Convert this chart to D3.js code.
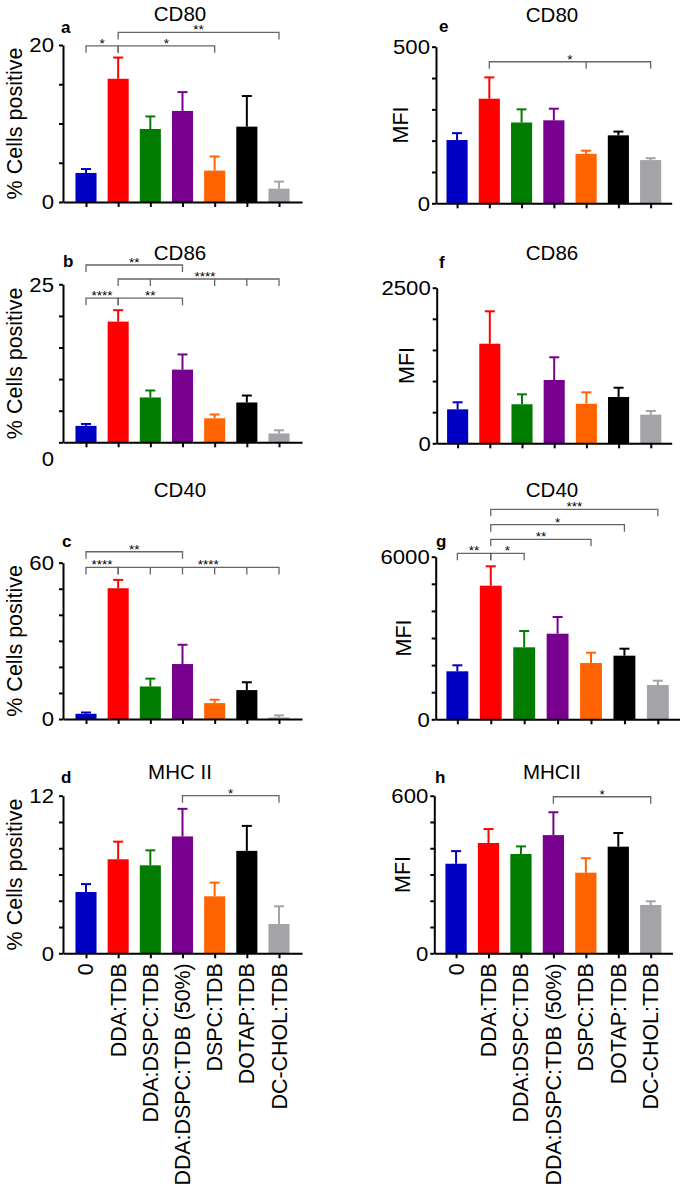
<!DOCTYPE html>
<html>
<head>
<meta charset="utf-8">
<script src="https://cdn.jsdelivr.net/npm/d3@7"></script>
<style>
  body { margin: 0; background: #fff; }
  svg { display: block; font-family: "Liberation Sans", Arial, Helvetica, sans-serif; }
</style>
</head>
<body>
<svg id="fig" width="685" height="1190"></svg>
<script>
//*** donnees ******************************************************************/
const groupes = ["0", "DDA:TDB", "DDA:DSPC:TDB", "DDA:DSPC:TDB (50%)", "DSPC:TDB", "DOTAP:TDB", "DC-CHOL:TDB"];
const couleurs = ["#0000c4", "#ff0000", "#007d00", "#78008f", "#ff6400", "#000000", "#a3a3a8"];

// % cellules positives (moyenne + SEM)
const cd80Pct = [3.7, 15.7, 9.3, 11.6, 4.0, 9.6, 1.7];
const cd80PctSem = [0.5, 2.7, 1.6, 2.4, 1.8, 3.9, 0.9];
const cd86Pct = [2.6, 19.1, 7.1, 11.5, 3.8, 6.3, 1.4];
const cd86PctSem = [0.3, 1.8, 1.1, 2.4, 0.6, 1.1, 0.5];
const cd40Pct = [2.0, 50.2, 12.5, 21.1, 6.1, 11.1, 0.6];
const cd40PctSem = [0.5, 3.2, 3.0, 7.4, 1.3, 3.0, 0.8];
const mhcPct = [4.67, 7.16, 6.7, 8.9, 4.34, 7.8, 2.23];
const mhcPctSem = [0.6, 1.34, 1.14, 2.1, 1.04, 1.9, 1.35];

// MFI (moyenne + SEM)
const cd80Mfi = [202, 334, 258, 265, 158, 217, 138];
const cd80MfiSem = [22, 68, 42, 37, 10, 12, 6];
const cd86Mfi = [546, 1600, 627, 1017, 636, 744, 460];
const cd86MfiSem = [113, 521, 160, 365, 183, 149, 59];
const cd40Mfi = [1771, 4930, 2657, 3159, 2077, 2347, 1266];
const cd40MfiSem = [222, 716, 601, 616, 381, 258, 158];
const mhcMfi = [341, 420, 378, 450, 307, 406, 184];
const mhcMfiSem = [48, 53, 29, 87, 55, 52, 14];

// significativite : [de, a, niveau (unites de l'axe), etiquette, pattes en plus, position etiquette]
const sigCd80Pct = [[0, 1, 19.9, "*"], [1, 4, 19.9, "*"], [1, 6, 21.6, "**"]];
const sigCd86Pct = [[0, 3, 28.05, "**"], [1, 6, 25.84, "****", [2, 4, 5], 3.7], [0, 1, 22.8, "****"], [1, 3, 22.8, "**"]];
const sigCd40Pct = [[0, 3, 64.2, "**"], [0, 1, 58.2, "****"], [1, 6, 58.2, "****", [2, 3, 4, 5], 3.8]];
const sigMhcPct = [[3, 6, 12.0, "*"]];
const sigCd80Mfi = [[1, 6, 452, "*", [4]]];
const sigCd86Mfi = [];
const sigCd40Mfi = [[1, 6, 7749, "***"], [1, 5, 7181, "*"], [1, 4, 6642, "**"], [0, 1, 6125, "**"], [1, 2, 6125, "*"]];
const sigMhcMfi = [[3, 6, 596, "*"]];

//*** mise en page des 8 panneaux **********************************************/
const panneaux = [
  { lettre: "a", titre: "CD80", yLab: "% Cells positive", moy: cd80Pct, sem: cd80PctSem, sig: sigCd80Pct, max: 20, pas: 5,
    ax: 63, ae: 302, pad: 0.715, yTop: 45, y0: 202, tx: 180, ty: 20.7, lx: 61, ly: 33, labX: 22, gap: 9 },
  { lettre: "b", titre: "CD86", yLab: "% Cells positive", moy: cd86Pct, sem: cd86PctSem, sig: sigCd86Pct, max: 25, pas: 5,
    ax: 63, ae: 302, pad: 0.715, yTop: 284.3, y0: 442.3, tx: 180, ty: 260, lx: 63, ly: 266.7, labX: 22, gap: 9, zeroDy: 16 },
  { lettre: "c", titre: "CD40", yLab: "% Cells positive", moy: cd40Pct, sem: cd40PctSem, sig: sigCd40Pct, max: 60, pas: 10,
    ax: 63, ae: 302, pad: 0.715, yTop: 562.7, y0: 719, tx: 180, ty: 497.3, lx: 62, ly: 547, labX: 22, gap: 9 },
  { lettre: "d", titre: "MHC II", yLab: "% Cells positive", moy: mhcPct, sem: mhcPctSem, sig: sigMhcPct, max: 12, pas: 2,
    ax: 63, ae: 302, pad: 0.715, yTop: 795.7, y0: 953.3, tx: 180, ty: 779, lx: 61, ly: 782.7, labX: 22, gap: 9, xLabels: true },
  { lettre: "e", titre: "CD80", yLab: "MFI", moy: cd80Mfi, sem: cd80MfiSem, sig: sigCd80Mfi, max: 500, pas: 100,
    ax: 436, ae: 671.7, pad: 0.653, yTop: 46.7, y0: 203.3, tx: 552, ty: 22.3, lx: 439, ly: 32.3, labX: 408, gap: 6 },
  { lettre: "f", titre: "CD86", yLab: "MFI", moy: cd86Mfi, sem: cd86MfiSem, sig: sigCd86Mfi, max: 2500, pas: 500,
    ax: 436.7, ae: 671.7, pad: 0.65, yTop: 287.7, y0: 443.3, tx: 552, ty: 260, lx: 439, ly: 268, labX: 414, gap: 6 },
  { lettre: "g", titre: "CD40", yLab: "MFI", moy: cd40Mfi, sem: cd40MfiSem, sig: sigCd40Mfi, max: 6000, pas: 1000,
    ax: 435.7, ae: 679.5, pad: 0.648, yTop: 556.7, y0: 719.3, tx: 552, ty: 497.3, lx: 436, ly: 547, labX: 411, gap: 6 },
  { lettre: "h", titre: "MHCII", yLab: "MFI", moy: mhcMfi, sem: mhcMfiSem, sig: sigMhcMfi, max: 600, pas: 100,
    ax: 434.3, ae: 672.5, pad: 0.671, yTop: 795.7, y0: 953.3, tx: 552, ty: 779, lx: 435, ly: 782.7, labX: 410, gap: 6, xLabels: true },
];

const svg = d3.select("#fig");

panneaux.forEach((p) => {
  const g = svg.append("g");
  const x = d3.scalePoint().domain(groupes).range([p.ax, p.ae]).padding(p.pad);
  const y = d3.scaleLinear().domain([0, p.max]).range([p.y0, p.yTop]);
  const bw = x.step() * 0.655;

  // barres
  g.selectAll("rect.bar")
    .data(p.moy)
    .join("rect")
    .attr("class", "bar")
    .attr("x", (d, i) => x(groupes[i]) - bw / 2)
    .attr("y", (d) => y(d))
    .attr("width", bw)
    .attr("height", (d) => y(0) - y(d))
    .attr("fill", (d, i) => couleurs[i]);

  // barres d'erreur (seulement vers le haut)
  const err = g.selectAll("g.err")
    .data(p.moy)
    .join("g")
    .attr("class", "err")
    .attr("stroke", (d, i) => couleurs[i])
    .attr("stroke-width", 2);
  err.append("line")
    .attr("x1", (d, i) => x(groupes[i]))
    .attr("x2", (d, i) => x(groupes[i]))
    .attr("y1", (d) => y(d))
    .attr("y2", (d, i) => y(d + p.sem[i]));
  err.append("line")
    .attr("x1", (d, i) => x(groupes[i]) - 5)
    .attr("x2", (d, i) => x(groupes[i]) + 5)
    .attr("y1", (d, i) => y(d + p.sem[i]))
    .attr("y2", (d, i) => y(d + p.sem[i]));

  // axes
  const axeY = g.append("g")
    .attr("transform", `translate(${p.ax},0)`)
    .call(d3.axisLeft(y).tickValues(d3.range(0, p.max + 1e-9, p.pas)).tickSize(4).tickSizeOuter(0).tickFormat(""));
  const axeX = g.append("g")
    .attr("transform", `translate(0,${p.y0})`)
    .call(d3.axisBottom(x).tickSize(5).tickSizeOuter(0).tickFormat(""));
  [axeY, axeX].forEach((a) => {
    a.selectAll("path, line").attr("stroke", "#000").attr("stroke-width", 2);
  });

  // etiquettes 0 et max
  [0, p.max].forEach((v) => {
    g.append("text")
      .attr("transform", `translate(${p.ax - p.gap},${y(v) + (v === 0 && p.zeroDy ? p.zeroDy : 0)}) scale(1.08,1)`)
      .attr("text-anchor", "end")
      .attr("dy", "0.36em")
      .attr("font-size", 20.5)
      .text(v);
  });

  // titre, lettre, label Y
  g.append("text")
    .attr("x", p.tx).attr("y", p.ty)
    .attr("text-anchor", "middle")
    .attr("font-size", 20.5)
    .text(p.titre);
  g.append("text")
    .attr("x", p.lx).attr("y", p.ly)
    .attr("font-size", 17)
    .attr("font-weight", "bold")
    .text(p.lettre);
  g.append("text")
    .attr("transform", `translate(${p.labX},${(p.y0 + p.yTop) / 2}) rotate(-90)`)
    .attr("text-anchor", "middle")
    .attr("font-size", 21.5)
    .text(p.yLab);

  // crochets de significativite
  p.sig.forEach(([a, b, niveau, etiquette, pattes, pos]) => {
    const yl = y(niveau);
    let d = `M${x(groupes[a])},${yl + 7}V${yl}H${x(groupes[b])}V${yl + 7}`;
    (pattes || []).forEach((k) => {
      d += `M${x(groupes[k])},${yl}V${yl + 7}`;
    });
    g.append("path")
      .attr("d", d)
      .attr("fill", "none")
      .attr("stroke", "#666")
      .attr("stroke-width", 1.3);
    const xl = pos !== undefined
      ? x(groupes[0]) + pos * x.step()
      : (x(groupes[a]) + x(groupes[b])) / 2;
    g.append("text")
      .attr("x", xl).attr("y", yl + 2)
      .attr("text-anchor", "middle")
      .attr("font-size", 13.5)
      .text(etiquette);
  });

  // noms des groupes sous les panneaux du bas
  if (p.xLabels) {
    g.selectAll("text.cat")
      .data(groupes)
      .join("text")
      .attr("class", "cat")
      .attr("transform", (d) => `translate(${x(d)},${p.y0 + 10}) rotate(-90)`)
      .attr("text-anchor", "end")
      .attr("dy", "0.35em")
      .attr("font-size", 21.4)
      .text((d) => d);
  }
});
</script>
</body>
</html>
